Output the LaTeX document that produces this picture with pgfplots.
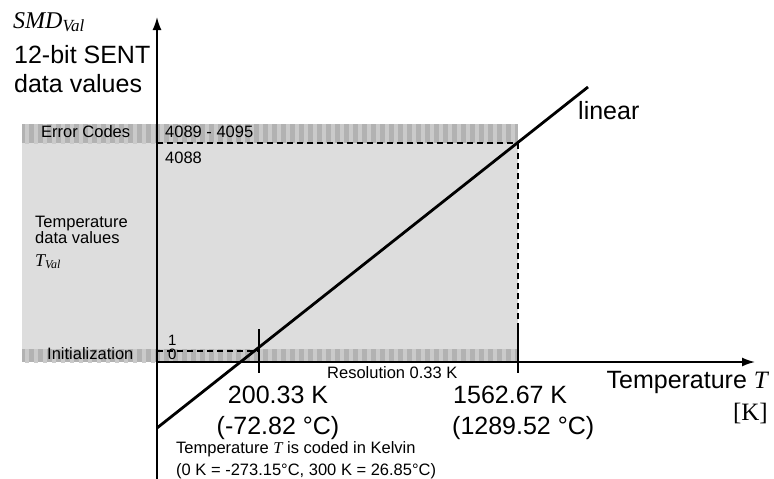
\documentclass[border=0pt]{standalone}
\usepackage{pgfplots}
\pgfplotsset{compat=1.18}
\usetikzlibrary{arrows.meta,patterns.meta}
\usepackage{fontspec}
\setmainfont{Liberation Sans}
\newfontfamily\serif{Liberation Serif}
\definecolor{lightg}{RGB}{221,221,221}
\definecolor{bandg}{RGB}{178,178,178}
\definecolor{bandl}{RGB}{202,202,202}
\newcommand{\fs}[1]{\fontsize{#1}{#1}\selectfont}
\begin{document}
\begin{tikzpicture}
\path[use as bounding box] (0,0) rectangle (774pt,479pt);
\begin{axis}[scale only axis, width=774pt, height=479pt,
  xmin=0, xmax=774, ymin=0, ymax=479, y dir=reverse,
  hide axis, clip=false, anchor=south west, at={(0,0)}]
% shaded region
\addplot[fill=lightg, draw=none] coordinates {(22,124) (518,124) (518,362) (22,362)} -- cycle;
% bands
\addplot[fill=bandg, draw=none] coordinates {(22,124) (518,124) (518,143) (22,143)} -- cycle;
\addplot[draw=none, pattern={Lines[angle=90,distance=9pt,line width=3.5pt]}, pattern color=bandl] coordinates {(22,124) (518,124) (518,143) (22,143)} -- cycle;
\addplot[fill=bandg, draw=none] coordinates {(22,349) (518,349) (518,362) (22,362)} -- cycle;
\addplot[draw=none, pattern={Lines[angle=90,distance=9pt,line width=3.5pt]}, pattern color=bandl] coordinates {(22,349) (518,349) (518,362) (22,362)} -- cycle;
% dashed guides
\addplot[black, line width=1.8pt, dash pattern=on 6pt off 4pt] coordinates {(157,143) (518,143)};
\addplot[black, line width=1.8pt, dash pattern=on 6pt off 4pt] coordinates {(518,143) (518,330)};
\addplot[black, line width=1.8pt, dash pattern=on 6pt off 4pt] coordinates {(157,351) (259,351)};
% axes
\addplot[black, line width=1.6pt, -{Latex[length=13pt,width=9pt]}] coordinates {(157,479) (157,17)};
\addplot[black, line width=1.6pt, -{Latex[length=13pt,width=9pt]}] coordinates {(157,362) (755,362)};
% linear characteristic
\addplot[black, line width=2.8pt] coordinates {(157,428) (588,87)};
% ticks
\addplot[black, line width=2.8pt] coordinates {(259,329) (259,373)};
\addplot[black, line width=2.8pt] coordinates {(518,329) (518,373)};
% texts
\node[anchor=base west, inner sep=0pt] at (axis cs:13,28) {\serif\itshape\fs{24}SMD\raisebox{-3pt}{\fs{17}Val}};
\node[anchor=base west, inner sep=0pt] at (axis cs:14,63) {\fs{25}12-bit SENT};
\node[anchor=base west, inner sep=0pt] at (axis cs:14,92) {\fs{25}data values};
\node[anchor=base west, inner sep=0pt] at (axis cs:41,137) {\fs{16.5}Error Codes};
\node[anchor=base west, inner sep=0pt] at (axis cs:165,137) {\fs{16.5}4089 - 4095};
\node[anchor=base west, inner sep=0pt] at (axis cs:165,163) {\fs{16.5}4088};
\node[anchor=base west, inner sep=0pt] at (axis cs:35,227) {\fs{16.5}Temperature};
\node[anchor=base west, inner sep=0pt] at (axis cs:35,243) {\fs{16.5}data values};
\node[anchor=base west, inner sep=0pt] at (axis cs:35,266) {\serif\itshape\fs{18}T\raisebox{-2pt}{\fs{12}Val}};
\node[anchor=base west, inner sep=0pt] at (axis cs:47,359) {\fs{16.5}Initialization};
\node[anchor=base west, inner sep=0pt] at (axis cs:168,345) {\fs{15}1};
\node[anchor=base west, inner sep=0pt] at (axis cs:168,359) {\fs{15}0};
\node[anchor=base west, inner sep=0pt] at (axis cs:327,378) {\fs{16.5}Resolution 0.33 K};
\node[anchor=base, inner sep=0pt] at (axis cs:278,403) {\fs{25}200.33 K};
\node[anchor=base, inner sep=0pt] at (axis cs:278,434) {\fs{25}(-72.82 °C)};
\node[anchor=base west, inner sep=0pt] at (axis cs:453,403) {\fs{25}1562.67 K};
\node[anchor=base west, inner sep=0pt] at (axis cs:452,434) {\fs{25}(1289.52 °C)};
\node[anchor=base east, inner sep=0pt] at (axis cs:768,388) {\fs{25}Temperature {\serif\itshape T}};
\node[anchor=base east, inner sep=0pt] at (axis cs:768,420) {\serif\fs{25}[K]};
\node[anchor=base west, inner sep=0pt] at (axis cs:578,119) {\fs{25}linear};
\node[anchor=base west, inner sep=0pt] at (axis cs:176,453) {\fs{16.5}Temperature {\serif\itshape T} is coded in Kelvin};
\node[anchor=base west, inner sep=0pt] at (axis cs:176,475) {\fs{16.5}(0 K = -273.15°C, 300 K = 26.85°C)};
\end{axis}
\end{tikzpicture}
\end{document}
